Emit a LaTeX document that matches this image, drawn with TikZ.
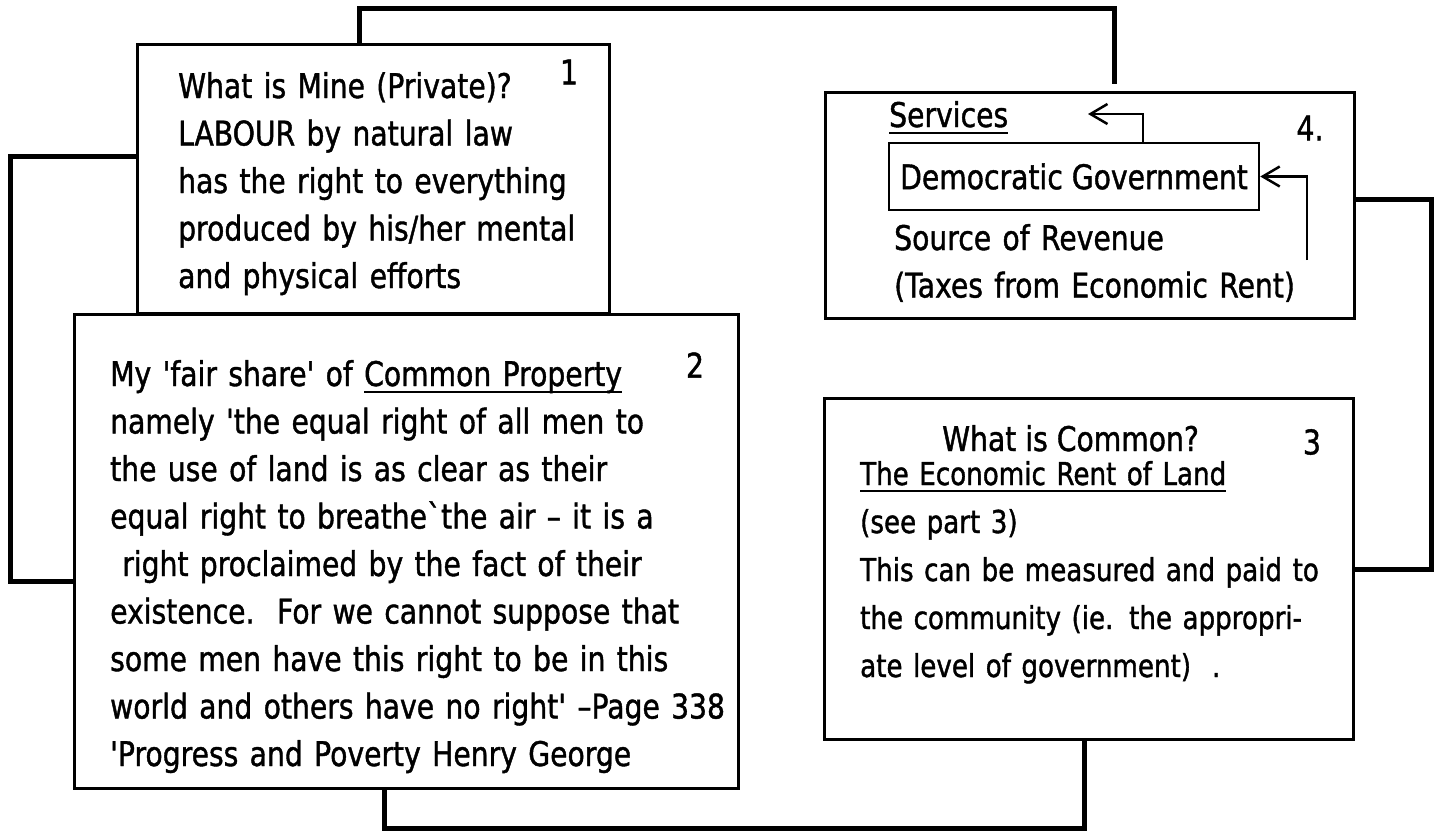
\documentclass[tikz,border=0pt]{standalone}
\usepackage{fontspec}
\usepackage{tikz}
\usetikzlibrary{arrows.meta}

\newfontfamily\handfont[FakeStretch=0.83,FakeBold=1.2]{DejaVu Sans}
\newsavebox{\ulbox}
\newcommand{\handul}[1]{\sbox{\ulbox}{#1}\rlap{\rule[-7pt]{\wd\ulbox}{2.5pt}}\usebox{\ulbox}}

\tikzset{
  panel/.style={draw, line width=2.5pt, inner sep=0pt, anchor=north west},
  link/.style={line width=5pt},
  flow/.style={line width=2.5pt, -{Straight Barb[length=17pt,width=20pt]}},
  hand/.style={font=\handfont\fontsize{34}{47.5}\selectfont, inner sep=0pt, align=left},
}

\begin{document}
\begin{tikzpicture}[x=1pt,y=-1pt]
\useasboundingbox (0,0) rectangle (1439,831);

% Box 1: what is mine
\node[panel, minimum width=472pt, minimum height=269pt] (mine) at (136,43) {};
\node[hand, text width=600pt, anchor=base west] (minetxt) at (178,98)
  {What is Mine (Private)?\\
   LABOUR by natural law\\
   has the right to everything\\
   produced by his/her mental\\
   and physical efforts};
\node[hand] (num1) at (569,72) {1};

% Box 2: common property
\node[panel, minimum width=664pt, minimum height=474pt] (share) at (73,313) {};
\node[hand, text width=800pt, anchor=base west] (sharetxt) at (110,386)
  {My 'fair share' of \handul{Common Property}\\
   namely 'the equal right of all men to\\
   the use of land is as clear as their\\
   equal right to breathe`the air – it is a\\
   \hspace*{12pt}right proclaimed by the fact of their\\
   existence.\ \ For we cannot suppose that\\
   some men have this right to be in this\\
   world and others have no right' –Page 338\\
   'Progress and Poverty Henry George};
\node[hand] (num2) at (695,365) {2};

% Box 4: government
\node[panel, minimum width=529pt, minimum height=226pt] (govbox) at (824,91) {};
\node[hand, anchor=base west] (svc) at (889,127) {\handul{Services}};
\node[draw, line width=2.5pt, hand, minimum width=370pt, minimum height=67pt] (gov) at (1074,176.5)
  {Democratic Government};
\node[hand, text width=600pt, anchor=base west] (revenue) at (894,250)
  {Source of Revenue\\
   (Taxes from Economic Rent)};
\node[hand] (num4) at (1310,128) {4.};

% Box 3: what is common
\node[panel, minimum width=529pt, minimum height=341pt] (common) at (823,397) {};
\node[hand, anchor=base west] (commonhead) at (942,451) {What is Common?};
\node[hand, font=\handfont\fontsize{31.5}{48}\selectfont, text width=600pt, anchor=base west] (commontxt) at (860,485)
  {\handul{The Economic Rent of Land}\\
   (see part 3)\\
   This can be measured and paid to\\
   the community (ie. the appropri-\\
   ate level of government)\ \ .};
\node[hand] (num3) at (1312,442) {3};

% Arrows inside box 4
\coordinate (svcturn) at (1143,114);
\coordinate (svctip) at (1088,114);
\draw[flow] (gov.north -| svcturn) |- (svctip);
\coordinate (revstart) at (1307,260);
\draw[flow] (revstart) |- (gov.east);

% Connectors between boxes
\coordinate (topL) at (359,8);
\coordinate (topR) at (1114,8);
\draw[link, shorten >=7pt] (topL |- mine.north) -- (topL) -- (topR) -- (topR |- govbox.north);

\coordinate (leftT) at (10,156);
\coordinate (leftB) at (10,581);
\draw[link] (leftT -| mine.west) -- (leftT) -- (leftB) -- (leftB -| share.west);

\coordinate (botL) at (384,828);
\coordinate (botR) at (1084,828);
\draw[link] (botL |- share.south) -- (botL) -- (botR) -- (botR |- common.south);

\coordinate (rightT) at (1431,199);
\coordinate (rightB) at (1431,569);
\draw[link] (rightT -| govbox.east) -- (rightT) -- (rightB) -- (rightB -| common.east);

\end{tikzpicture}
\end{document}
